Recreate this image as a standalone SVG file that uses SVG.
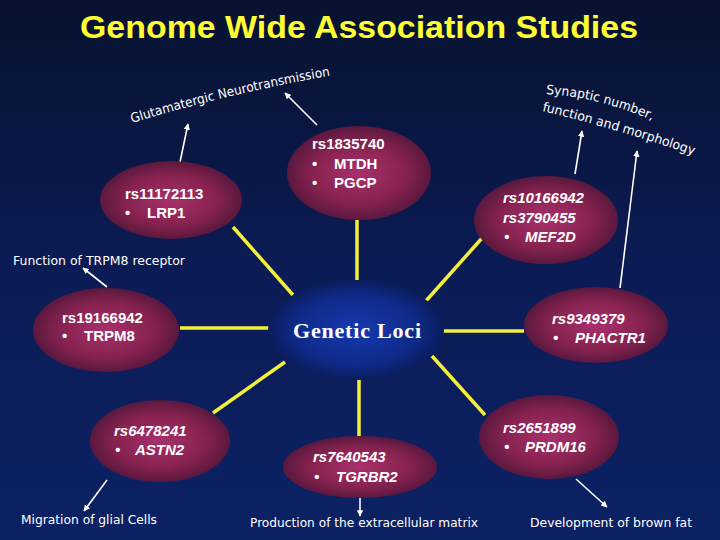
<svg xmlns="http://www.w3.org/2000/svg" width="720" height="540" viewBox="0 0 720 540">
<defs>
<linearGradient id="bg" x1="0" y1="0" x2="0" y2="1">
<stop offset="0" stop-color="#08122f"/>
<stop offset="0.5" stop-color="#0b1b55"/>
<stop offset="1" stop-color="#0c2264"/>
</linearGradient>
<radialGradient id="red" cx="0.5" cy="0.5" r="0.5">
<stop offset="0" stop-color="#a8306c"/>
<stop offset="0.65" stop-color="#86224f"/>
<stop offset="1" stop-color="#5a183e"/>
</radialGradient>
<radialGradient id="blue" cx="0.5" cy="0.5" r="0.5">
<stop offset="0" stop-color="#1638b0"/>
<stop offset="0.7" stop-color="#0f2a88"/>
<stop offset="1" stop-color="#0a1c5c"/>
</radialGradient>
<marker id="ah" viewBox="0 0 10 10" refX="9" refY="5" markerWidth="4" markerHeight="4" orient="auto">
<path d="M0,0 L10,5 L0,10 z" fill="#ffffff"/>
</marker>
<path id="p1" d="M132,123 Q230,93 334,75"/>
<path id="p2" d="M546,94 Q600,97 656,122"/>
<path id="p3" d="M542,111 Q610,127 693,155"/>
</defs>
<style>
.nd{fill:url(#red)}
.t{font-family:"Liberation Sans",Arial,sans-serif;font-weight:bold;font-size:15px;fill:#ffffff}
.i{font-style:italic}
.lb{font-family:"DejaVu Sans","Liberation Sans",sans-serif;font-size:13px;fill:#ffffff}
.y{stroke:#f4f03a;stroke-width:3.5;fill:none}
.w{stroke:#ffffff;stroke-width:1.6;fill:none;marker-end:url(#ah)}
</style>
<rect width="720" height="540" fill="url(#bg)"/>
<text x="359" y="38" text-anchor="middle" font-family="Liberation Sans,Arial,sans-serif" font-weight="bold" font-size="31" fill="#ffff33" textLength="558" lengthAdjust="spacingAndGlyphs">Genome Wide Association Studies</text>

<g id="connectors">
<line class="y" x1="233" y1="227" x2="293" y2="295"/>
<line class="y" x1="357" y1="220" x2="357" y2="282"/>
<line class="y" x1="483" y1="237" x2="425" y2="302"/>
<line class="y" x1="180" y1="328" x2="272" y2="328"/>
<line class="y" x1="443" y1="331" x2="524" y2="331"/>
<line class="y" x1="213" y1="413" x2="285" y2="362"/>
<line class="y" x1="359" y1="378" x2="359" y2="437"/>
<line class="y" x1="432" y1="356" x2="485" y2="415"/>
<line class="w" x1="180" y1="162" x2="188" y2="124"/>
<line class="w" x1="317" y1="125" x2="285" y2="93"/>
<line class="w" x1="575" y1="174" x2="582" y2="131"/>
<line class="w" x1="620" y1="288" x2="637" y2="151"/>
<line class="w" x1="107" y1="287" x2="83" y2="268"/>
<line class="w" x1="107" y1="480" x2="84" y2="511"/>
<line class="w" x1="360" y1="498" x2="360" y2="516"/>
<line class="w" x1="576" y1="479" x2="607" y2="507"/>
</g>

<g id="center">
<ellipse cx="356" cy="330" rx="88" ry="50" fill="url(#blue)"/>
<text x="357" y="338" text-anchor="middle" font-family="Liberation Serif,'Times New Roman',serif" font-weight="bold" font-size="22" fill="#ffffff" textLength="128">Genetic Loci</text>
</g>

<g id="n-lrp1">
<ellipse class="nd" cx="171" cy="200" rx="71" ry="39"/>
<text class="t" x="125" y="199">rs11172113</text>
<text class="t" x="125" y="218">•</text><text class="t" x="147" y="218">LRP1</text>
</g>
<g id="n-mtdh">
<ellipse class="nd" cx="359" cy="173" rx="72" ry="47"/>
<text class="t" x="312" y="149">rs1835740</text>
<text class="t" x="312" y="169">•</text><text class="t" x="334" y="169">MTDH</text>
<text class="t" x="312" y="188">•</text><text class="t" x="334" y="188">PGCP</text>
</g>
<g id="n-mef2d">
<ellipse class="nd" cx="546" cy="220" rx="72" ry="44"/>
<text class="t i" x="503" y="203">rs10166942</text>
<text class="t i" x="503" y="223">rs3790455</text>
<text class="t i" x="504" y="242">•</text><text class="t i" x="525" y="242">MEF2D</text>
</g>
<g id="n-trpm8">
<ellipse class="nd" cx="106" cy="330" rx="73" ry="42"/>
<text class="t" x="62" y="323">rs19166942</text>
<text class="t" x="62" y="341">•</text><text class="t" x="84" y="341">TRPM8</text>
</g>
<g id="n-phactr1">
<ellipse class="nd" cx="596" cy="325" rx="72" ry="38"/>
<text class="t i" x="552" y="324">rs9349379</text>
<text class="t i" x="553" y="343">•</text><text class="t i" x="575" y="343">PHACTR1</text>
</g>
<g id="n-astn2">
<ellipse class="nd" cx="160" cy="441" rx="70" ry="41"/>
<text class="t i" x="114" y="436">rs6478241</text>
<text class="t i" x="115" y="455">•</text><text class="t i" x="135" y="455">ASTN2</text>
</g>
<g id="n-tgrbr2">
<ellipse class="nd" cx="360" cy="467" rx="77" ry="31"/>
<text class="t i" x="313" y="462">rs7640543</text>
<text class="t i" x="314" y="482">•</text><text class="t i" x="336" y="482">TGRBR2</text>
</g>
<g id="n-prdm16">
<ellipse class="nd" cx="549" cy="437" rx="70" ry="42"/>
<text class="t i" x="503" y="433">rs2651899</text>
<text class="t i" x="504" y="452">•</text><text class="t i" x="525" y="452">PRDM16</text>
</g>

<g id="labels">
<text class="lb"><textPath href="#p1" textLength="204" lengthAdjust="spacingAndGlyphs">Glutamatergic Neurotransmission</textPath></text>
<text class="lb"><textPath href="#p2" textLength="110" lengthAdjust="spacingAndGlyphs">Synaptic  number,</textPath></text>
<text class="lb"><textPath href="#p3" textLength="158" lengthAdjust="spacingAndGlyphs">function and morphology</textPath></text>
<text class="lb" x="13" y="265" textLength="172" lengthAdjust="spacingAndGlyphs">Function of TRPM8 receptor</text>
<text class="lb" x="21" y="524" textLength="136" lengthAdjust="spacingAndGlyphs">Migration of glial Cells</text>
<text class="lb" x="250" y="527" textLength="228" lengthAdjust="spacingAndGlyphs">Production of the extracellular matrix</text>
<text class="lb" x="530" y="527" textLength="162" lengthAdjust="spacingAndGlyphs">Development of brown fat</text>
</g>
</svg>
